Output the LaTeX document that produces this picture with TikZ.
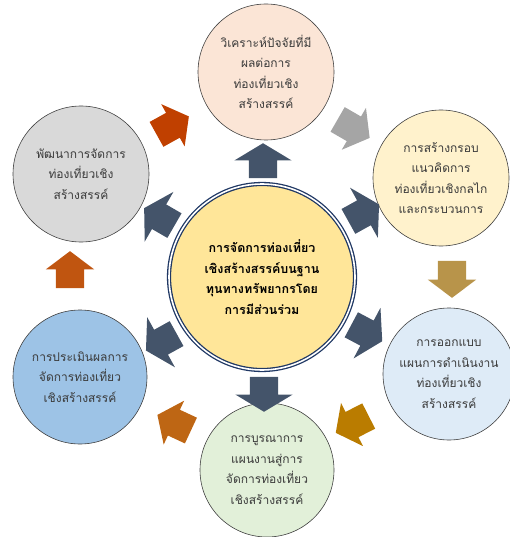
\documentclass[tikz,border=0pt]{standalone}
\usepackage{fontspec}
\usepackage{tikz}
\usepackage{xcolor}
\usetikzlibrary{shapes,arrows.meta,positioning}
\newfontfamily\thaifont[Script=Thai]{Loma}
\definecolor{CoreFill}{HTML}{FFE699}
\definecolor{CoreLine}{HTML}{203864}
\definecolor{SlateArrow}{HTML}{44546A}
\definecolor{RingLine}{HTML}{404040}
\definecolor{RingText}{HTML}{3A3A3A}
\definecolor{PeachFill}{HTML}{FBE5D6}
\definecolor{CreamFill}{HTML}{FFF2CC}
\definecolor{IceFill}{HTML}{DEEBF7}
\definecolor{MintFill}{HTML}{E2F0D9}
\definecolor{SkyFill}{HTML}{9DC3E6}
\definecolor{SilverFill}{HTML}{D9D9D9}
\definecolor{GrayArrow}{HTML}{A5A5A5}
\definecolor{TanArrow}{HTML}{B8944A}
\definecolor{GoldArrow}{HTML}{BA7C00}
\definecolor{AmberArrow}{HTML}{BE6614}
\definecolor{RustArrow}{HTML}{C05510}
\definecolor{BrickArrow}{HTML}{C04000}
\tikzset{
    % Outer circle style
    ringnode/.style={
        circle,
        draw=RingLine,
        line width=0.6pt,
        minimum size=136pt,
        inner sep=0pt,
        align=center,
        text=RingText,
        font=\thaifont\fontsize{12}{20.5}\selectfont
    },
    % Center circle style
    corenode/.style={
        circle,
        draw=CoreLine,
        double=white,
        double distance=1.6pt,
        line width=1.3pt,
        fill=CoreFill,
        minimum size=186pt,
        inner sep=0pt,
        align=center,
        text=black,
        font=\thaifont\bfseries\fontsize{12.5}{20.5}\selectfont
    },
    % Arrows from the center
    corearrow/.style={
        single arrow,
        draw=none,
        fill=SlateArrow,
        inner xsep=0pt,
        inner ysep=14pt,
        minimum height=35pt,
        single arrow head extend=14.5pt,
        single arrow tip angle=118
    },
    % Arrows of the cycle
    cyclearrow/.style={
        single arrow,
        draw=none,
        inner xsep=0pt,
        inner ysep=14pt,
        minimum height=37pt,
        single arrow head extend=10pt,
        single arrow tip angle=106
    }
}
\begin{document}
\begin{tikzpicture}[x=1pt, y=-1pt]
        \useasboundingbox (0,0) rectangle (509,537);

        % Center
        \node[corenode] (core) at (262,277) {การจัดการท่องเที่ยว\\เชิงสร้างสรรค์บนฐาน\\ทุนทางทรัพยากรโดย\\การมีส่วนร่วม};

        % Outer circles
        \node[ringnode, fill=PeachFill] (analyse) at (266,72) {วิเคราะห์ปัจจัยที่มี\\ผลต่อการ\\ท่องเที่ยวเชิง\\สร้างสรรค์};
        \node[ringnode, fill=CreamFill] (frame) at (441,178) {การสร้างกรอบ\\แนวคิดการ\\ท่องเที่ยวเชิงกลไก\\และกระบวนการ};
        \node[ringnode, fill=IceFill, minimum size=132pt] (design) at (449,374) {การออกแบบ\\แผนการดำเนินงาน\\ท่องเที่ยวเชิง\\สร้างสรรค์};
        \node[ringnode, fill=MintFill, minimum size=134pt] (integrate) at (267,470) {การบูรณาการ\\แผนงานสู่การ\\จัดการท่องเที่ยว\\เชิงสร้างสรรค์};
        \node[ringnode, fill=SkyFill, minimum size=134pt] (assess) at (80,377) {การประเมินผลการ\\จัดการท่องเที่ยว\\เชิงสร้างสรรค์};
        \node[ringnode, fill=SilverFill] (develop) at (81,174) {พัฒนาการจัดการ\\ท่องเที่ยวเชิง\\สร้างสรรค์};

        % Arrows from the center
        \node[corearrow, rotate=90] (toanalyse) at (263,165) {};
        \node[corearrow, rotate=29] (toframe) at (360,215) {};
        \node[corearrow, rotate=-28] (todesign) at (363,331) {};
        \node[corearrow, rotate=-90] (tointegrate) at (264,390) {};
        \node[corearrow, rotate=209] (toassess) at (165,340) {};
        \node[corearrow, rotate=150] (todevelop) at (163,219) {};

        % Cycle arrows
        \node[cyclearrow, fill=GrayArrow, rotate=-30] (gray) at (349,126) {};
        \node[cyclearrow, fill=TanArrow, rotate=-90] (tan) at (452,274) {};
        \node[cyclearrow, fill=GoldArrow, rotate=207] (gold) at (357,422) {};
        \node[cyclearrow, fill=AmberArrow, rotate=155] (amber) at (179,425) {};
        \node[cyclearrow, fill=RustArrow, rotate=90] (rust) at (70,275) {};
        \node[cyclearrow, fill=BrickArrow, rotate=29] (brick) at (168,128) {};
    \end{tikzpicture}
\end{document}
